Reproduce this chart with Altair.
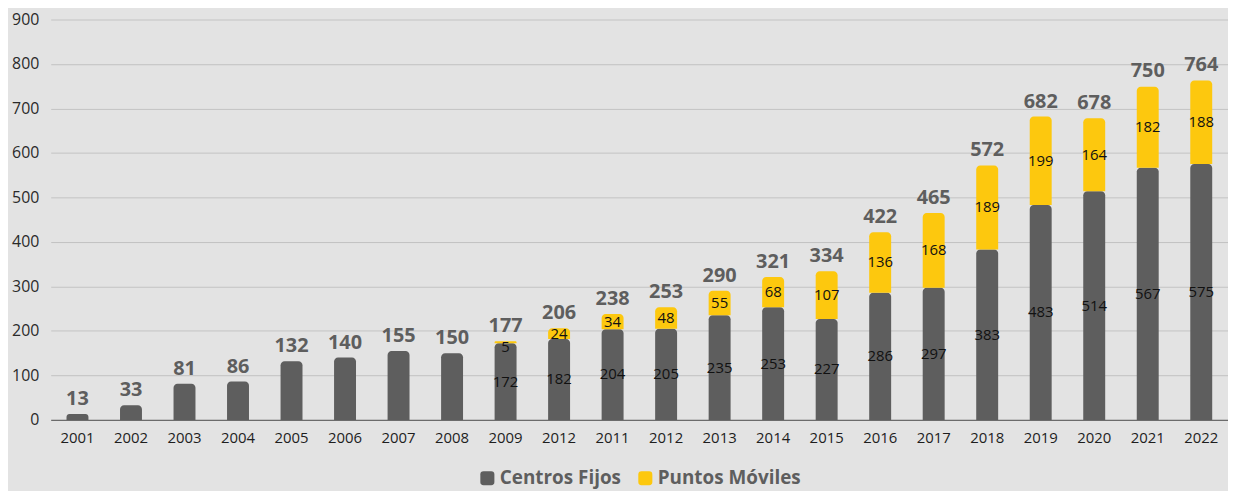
import json
import altair as alt
import pandas as pd

categories = ["2001", "2002", "2003", "2004", "2005", "2006", "2007", "2008", "2009", "2012",
              "2011", "2012", "2013", "2014", "2015", "2016", "2017", "2018", "2019", "2020",
              "2021", "2022"]
fijos = [13, 33, 81, 86, 132, 140, 155, 150, 172, 182, 204, 205, 235, 253, 227, 286, 297,
         383, 483, 514, 567, 575]
moviles = [0, 0, 0, 0, 0, 0, 0, 0, 5, 24, 34, 48, 55, 68, 107, 136, 168, 189, 199, 164,
           182, 188]
totales = [13, 33, 81, 86, 132, 140, 155, 150, 177, 206, 238, 253, 290, 321, 334, 422, 465,
           572, 682, 678, 750, 764]
series = ["Centros Fijos", "Puntos Móviles"]
colores = ["#5e5e5e", "#fdc80e"]

rows = []
for i in range(len(categories)):
    rows.append({"idx": i, "serie": series[0], "ord": 0, "valor": fijos[i], "mov": moviles[i]})
    rows.append({"idx": i, "serie": series[1], "ord": 1, "valor": moviles[i], "mov": moviles[i]})
df = pd.DataFrame(rows)
tot_df = pd.DataFrame({"idx": list(range(len(categories))), "total": totales})

FONT = "Open Sans"
label_expr = json.dumps(categories) + "[datum.value]"

x_enc = alt.X("idx:O", title=None,
              scale=alt.Scale(paddingInner=0.59, paddingOuter=0.295),
              axis=alt.Axis(labelExpr=label_expr, labelAngle=0, ticks=False,
                            domain=True, domainColor="#6b6b6b", domainWidth=1.5,
                            labelFont=FONT, labelFontSize=15, labelColor="#1e1e1e",
                            labelPadding=11, grid=False))
y_scale = alt.Scale(domain=[0, 900], nice=False)

base = alt.Chart(df).transform_stack(
    stack="valor", groupby=["idx"], as_=["v0", "v1"],
    sort=[alt.SortField("ord", order="ascending")]
).transform_calculate(mid="min((datum.v0 + datum.v1) / 2, datum.v1 - 13)")

bars = base.mark_bar(cornerRadiusTopLeft=4, cornerRadiusTopRight=4).encode(
    x=x_enc,
    y=alt.Y("v1:Q", scale=y_scale, title=None,
            axis=alt.Axis(values=list(range(0, 901, 100)), ticks=False, domain=False,
                          labelFont=FONT, labelFontSize=16, labelColor="#2a2a2a",
                          labelPadding=12, gridColor="#c3c3c3", gridWidth=1)),
    y2="v0:Q",
    color=alt.Color("serie:N", title=None,
                    scale=alt.Scale(domain=series, range=colores),
                    legend=alt.Legend(
                        orient="none", direction="horizontal", legendX=430, legendY=452,
                        symbolType="M -0.55 -1 H 0.55 Q 1 -1 1 -0.55 V 0.55 Q 1 1 0.55 1 H -0.55 Q -1 1 -1 0.55 V -0.55 Q -1 -1 -0.55 -1 Z",
                        symbolSize=200, symbolStrokeWidth=0, labelFont=FONT,
                        labelFontSize=19, labelFontWeight="bold", labelColor="#5e5e5e",
                        columnPadding=14, labelOffset=3)),
    order=alt.Order("ord:Q"),
)

inner = base.transform_filter("datum.mov > 0 && datum.valor > 0").mark_text(
    font=FONT, fontSize=15, color="#111111", baseline="middle"
).encode(
    x=alt.X("idx:O"),
    y=alt.Y("mid:Q", scale=y_scale),
    text=alt.Text("valor:Q"),
)

tops = alt.Chart(tot_df).mark_text(
    font=FONT, fontSize=20, fontWeight="bold", color="#5e5e5e", baseline="bottom", dy=-5
).encode(
    x=alt.X("idx:O"),
    y=alt.Y("total:Q", scale=y_scale),
    text=alt.Text("total:Q"),
)

chart = alt.layer(bars, inner, tops).properties(
    width=1185, height=403,
    background="#e3e3e3",
    autosize=alt.AutoSizeParams(type="none"),
    padding={"left": 43, "top": 10, "right": 0, "bottom": 70},
).configure_view(stroke=None)

chart.save("out.html", embed_options={"renderer": "svg", "actions": False})
